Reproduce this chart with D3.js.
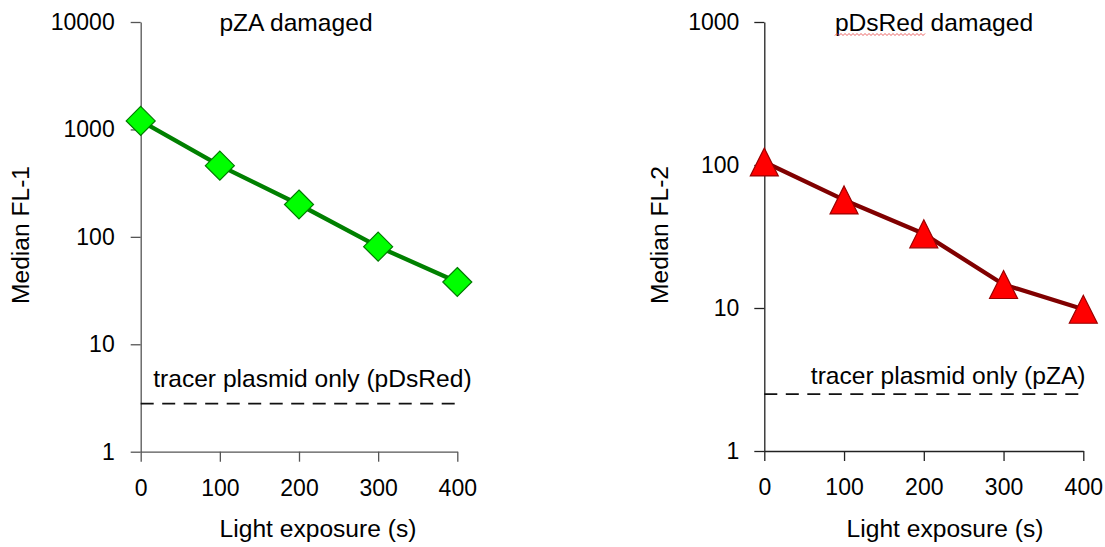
<!DOCTYPE html>
<html>
<head>
<meta charset="utf-8">
<script src="https://cdn.jsdelivr.net/npm/d3@7"></script>
<style>
  body { margin: 0; background: #fff; }
  svg { display: block; font-family: "Liberation Sans", Arial, sans-serif; }
</style>
</head>
<body>
<svg width="1105" height="547"></svg>
<script>
// light exposure (s) on x, median fluorescence on y
const exposure = [0, 100, 200, 300, 400];
const pzaFL1 = [1200, 460, 200, 81, 38];
const pdsredFL2 = [105, 57, 33, 14.6, 9.8];
const tracerFL1 = 2.8;
const tracerFL2 = 2.5;
const fl1Ticks = [1, 10, 100, 1000, 10000];
const fl2Ticks = [1, 10, 100, 1000];

const svg = d3.select('svg');
const labelSize = '24.6px';

const panels = [
  {
    values: pzaFL1, ticks: fl1Ticks, tracer: tracerFL1,
    xRange: [140.7, 457.3], yRange: [451.7, 22], yMax: 10000,
    title: 'pZA damaged', titleX: 296,
    yLabel: 'Median FL-1', yLabelX: 29, xLabelX: 318,
    tracerLabel: 'tracer plasmid only (pDsRed)', tracerDx: 12.5, tracerDy: -17,
    axisColor: '#555', tickPad: 16,
    line: '#008000', fill: '#00ff00', stroke: '#007a00', shape: 'diamond',
  },
  {
    values: pdsredFL2, ticks: fl2Ticks, tracer: tracerFL2,
    xRange: [764.3, 1083.3], yRange: [451, 22], yMax: 1000,
    title: 'pDsRed damaged', titleX: 934,
    yLabel: 'Median FL-2', yLabelX: 668, xLabelX: 945,
    tracerLabel: 'tracer plasmid only (pZA)', tracerDx: 46.5, tracerDy: -10,
    axisColor: '#222', tickPad: 15,
    line: '#800000', fill: '#ff0000', stroke: '#990000', shape: 'triangle',
  },
];

panels.forEach((p) => {
  const x = d3.scaleLinear().domain([0, 400]).range(p.xRange);
  const y = d3.scaleLog().domain([1, p.yMax]).range(p.yRange);
  const g = svg.append('g');

  const yAxis = g.append('g')
    .attr('transform', `translate(${p.xRange[0]},0)`)
    .call(d3.axisLeft(y).tickValues(p.ticks).tickFormat(d3.format('d'))
      .tickSize(10).tickSizeOuter(0).tickPadding(p.tickPad));
  const xAxis = g.append('g')
    .attr('transform', `translate(0,${p.yRange[0]})`)
    .call(d3.axisBottom(x).tickValues(exposure).tickFormat(d3.format('d'))
      .tickSize(10).tickSizeOuter(0).tickPadding(18));

  [yAxis, xAxis].forEach((a) => {
    a.select('.domain').attr('stroke', p.axisColor).attr('stroke-width', 1.3);
    a.selectAll('.tick line').attr('stroke', p.axisColor).attr('stroke-width', 1.3);
    a.selectAll('.tick text').attr('fill', '#000').style('font-size', '23px')
      .style('font-family', '"Liberation Sans", Arial, sans-serif');
  });

  // tracer-only baseline
  g.append('line')
    .attr('x1', x(0)).attr('x2', x(400))
    .attr('y1', y(p.tracer)).attr('y2', y(p.tracer))
    .attr('stroke', '#111').attr('stroke-width', 1.6)
    .attr('stroke-dasharray', '13,8.5');

  g.append('text')
    .attr('x', x(0) + p.tracerDx).attr('y', y(p.tracer) + p.tracerDy)
    .style('font-size', labelSize).attr('fill', '#000')
    .text(p.tracerLabel);

  const pts = exposure.map((e, i) => ({ e, v: p.values[i] }));

  g.append('path')
    .datum(pts)
    .attr('fill', 'none')
    .attr('stroke', p.line)
    .attr('stroke-width', 4.3)
    .attr('stroke-linejoin', 'round')
    .attr('d', d3.line().x((d) => x(d.e)).y((d) => y(d.v)));

  const markerPath = p.shape === 'diamond'
    ? 'M0,-14.5L14.5,0L0,14.5L-14.5,0Z'
    : 'M0,-14L14,14L-14,14Z';

  g.selectAll('path.marker')
    .data(pts)
    .enter()
    .append('path')
    .attr('class', 'marker')
    .attr('d', markerPath)
    .attr('transform', (d) => `translate(${x(d.e)},${y(d.v)})`)
    .attr('fill', p.fill)
    .attr('stroke', p.stroke)
    .attr('stroke-width', 1.2);

  g.append('text')
    .attr('x', p.titleX).attr('y', 31)
    .attr('text-anchor', 'middle')
    .style('font-size', labelSize).attr('fill', '#000')
    .text(p.title);

  g.append('text')
    .attr('x', p.xLabelX).attr('y', 537)
    .attr('text-anchor', 'middle')
    .style('font-size', labelSize).attr('fill', '#000')
    .text('Light exposure (s)');

  g.append('text')
    .attr('transform', `translate(${p.yLabelX},235)rotate(-90)`)
    .attr('text-anchor', 'middle')
    .style('font-size', labelSize).attr('fill', '#000')
    .text(p.yLabel);
});

// spell-check squiggle under "pDsRed" in the right title
const squiggle = d3.range(835, 926, 2).map((sx, i) => [sx, i % 2 ? 33.5 : 35.5]);
svg.append('path')
  .attr('d', d3.line()(squiggle))
  .attr('fill', 'none')
  .attr('stroke', '#e23a3a')
  .attr('stroke-width', 0.8);
</script>
</body>
</html>
